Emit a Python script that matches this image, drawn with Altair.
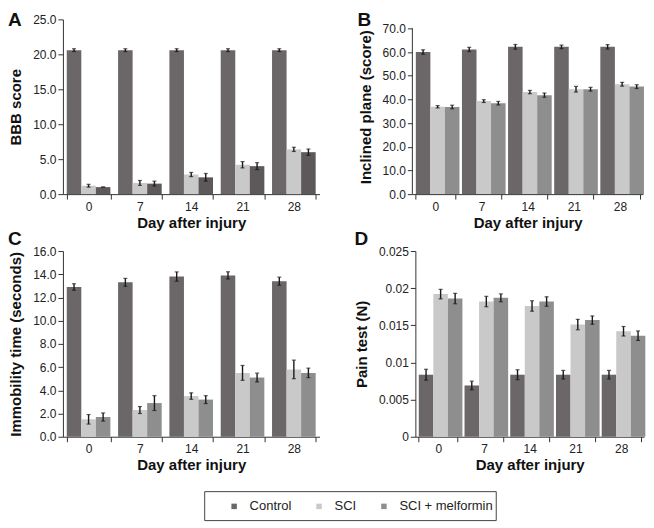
import altair as alt
import pandas as pd

FONT = "Liberation Sans"

days = ["0", "7", "14", "21", "28"]
groups = ["Control", "SCI", "SCI + melformin"]

# Panel A: BBB score
bbb_control = [20.6, 20.6, 20.6, 20.6, 20.6]
bbb_control_err = [0.2, 0.2, 0.2, 0.2, 0.2]
bbb_sci = [1.2, 1.6, 2.8, 4.2, 6.4]
bbb_sci_err = [0.2, 0.35, 0.3, 0.45, 0.3]
bbb_mel = [1.0, 1.5, 2.4, 4.0, 6.0]
bbb_mel_err = [0.0, 0.35, 0.55, 0.5, 0.45]

# Panel B: Inclined plane
inc_control = [60.0, 61.1, 62.2, 62.2, 62.2]
inc_control_err = [0.95, 0.9, 1.0, 0.75, 0.95]
inc_sci = [36.9, 39.3, 43.1, 44.3, 46.4]
inc_sci_err = [0.5, 0.6, 0.7, 1.2, 0.8]
inc_mel = [36.8, 38.4, 41.8, 44.3, 45.4]
inc_mel_err = [0.75, 0.75, 0.9, 0.8, 0.8]

# Panel C: Immobility time
imm_control = [12.9, 13.3, 13.8, 13.9, 13.4]
imm_control_err = [0.28, 0.34, 0.4, 0.31, 0.35]
imm_sci = [1.5, 2.3, 3.5, 5.5, 5.8]
imm_sci_err = [0.41, 0.3, 0.28, 0.64, 0.8]
imm_mel = [1.7, 2.9, 3.2, 5.1, 5.5]
imm_mel_err = [0.35, 0.64, 0.34, 0.38, 0.41]

# Panel D: Pain test
pain_control = [0.00835, 0.0069, 0.00835, 0.00835, 0.00835]
pain_control_err = [0.00073, 0.00058, 0.00067, 0.00058, 0.00058]
pain_sci = [0.0192, 0.0182, 0.0176, 0.0151, 0.0142]
pain_sci_err = [0.00064, 0.0007, 0.0007, 0.0007, 0.00064]
pain_mel = [0.0186, 0.0187, 0.0182, 0.0157, 0.0136]
pain_mel_err = [0.0007, 0.00053, 0.00064, 0.00056, 0.00064]

ticks_a = [0, 5, 10, 15, 20, 25]
ticks_b = [0, 10, 20, 30, 40, 50, 60, 70]
ticks_c = [0, 2, 4, 6, 8, 10, 12, 14, 16]
ticks_d = [0, 0.005, 0.01, 0.015, 0.02, 0.025]

colors_main = ["#6b6667", "#c9c9c9", "#8e8e8e"]
colors_a = ["#6b6667", "#c9c9c9", "#5d5859"]

panel_letters = ["A", "B", "C", "D"]

AXIS_COLOR = "#333333"
ERR_COLOR = "#1a1a1a"


def make_df(series, errs):
    rows = []
    for g, vals, es in zip(groups, series, errs):
        for d, v, e in zip(days, vals, es):
            rows.append({"day": d, "group": g, "mean": v, "lo": v - e, "hi": v + e})
    return pd.DataFrame(rows)


def panel(df, ytitle, ticks, fmt, colors, letter, width, height, lx, ly, dom_max=None):
    top = ticks[-1] if dom_max is None else dom_max
    own_domain = dom_max is None

    def xe():
        return alt.X(
            "day:N", sort=days, title="Day after injury",
            scale=alt.Scale(paddingInner=0.15, paddingOuter=0.075),
            axis=alt.Axis(labelAngle=0, tickBand="extent", titlePadding=3),
        )

    def xo():
        return alt.XOffset("group:N", sort=groups,
                           scale=alt.Scale(paddingInner=0, paddingOuter=0))

    def yscale():
        return alt.Scale(domain=[0, top], nice=False, zero=True)

    def yaxis():
        return alt.Axis(values=ticks, format=fmt, titlePadding=9, domain=own_domain,
                        labelOverlap=False)

    def ye(field):
        return alt.Y(field, title=ytitle, scale=yscale(), axis=yaxis())

    base = alt.Chart(df)
    bars = base.mark_bar().encode(
        x=xe(), xOffset=xo(), y=ye("mean:Q"),
        color=alt.Color("group:N", sort=groups,
                        scale=alt.Scale(domain=groups, range=colors), legend=None),
    )
    rule = base.mark_rule(color=ERR_COLOR, strokeWidth=1.4).encode(
        x=xe(), xOffset=xo(), y=ye("lo:Q"), y2="hi:Q"
    )
    cap_lo = base.mark_tick(color=ERR_COLOR, thickness=1.2, size=4).encode(
        x=xe(), xOffset=xo(), y=ye("lo:Q")
    )
    cap_hi = base.mark_tick(color=ERR_COLOR, thickness=1.2, size=4).encode(
        x=xe(), xOffset=xo(), y=ye("hi:Q")
    )
    lab = alt.Chart(pd.DataFrame({"t": [letter]})).mark_text(
        align="left", baseline="top", fontSize=19, fontWeight="bold",
        font=FONT, color="#111"
    ).encode(text="t:N", x=alt.value(lx), y=alt.value(ly))
    layers = [bars, rule, cap_lo, cap_hi, lab]
    if not own_domain:
        # y-axis line that stops at the top tick
        axis_line = alt.Chart(pd.DataFrame({"a": [0]})).mark_rule(
            color=AXIS_COLOR, strokeWidth=1
        ).encode(
            x=alt.value(0),
            y=alt.Y(datum=ticks[0], title=ytitle, scale=yscale(), axis=yaxis()),
            y2=alt.Y2(datum=ticks[-1]),
        )
        layers.append(axis_line)
    return alt.layer(*layers).properties(width=width, height=height)


df_a = make_df([bbb_control, bbb_sci, bbb_mel], [bbb_control_err, bbb_sci_err, bbb_mel_err])
df_b = make_df([inc_control, inc_sci, inc_mel], [inc_control_err, inc_sci_err, inc_mel_err])
df_c = make_df([imm_control, imm_sci, imm_mel], [imm_control_err, imm_sci_err, imm_mel_err])
df_d = make_df([pain_control, pain_sci, pain_mel], [pain_control_err, pain_sci_err, pain_mel_err])

pa = panel(df_a, "BBB score", ticks_a, ".1f", colors_a, panel_letters[0], 257, 175, -55, -8)
pb = panel(df_b, "Inclined plane (score)", ticks_b, ".1f", colors_main, panel_letters[1],
           231, 175, -55, -8, dom_max=73.8)
pc = panel(df_c, "Immobility time (seconds)", ticks_c, ".1f", colors_main, panel_letters[2],
           257, 186, -55, -21)
pd_ = panel(df_d, "Pain test (N)", ticks_d, "~g", colors_main, panel_letters[3],
            229, 186, -61, -21)

res = dict(color="independent", x="independent", y="independent")
row1 = alt.hconcat(pa, pb, spacing=38).resolve_scale(**res)
row2 = alt.hconcat(pc, pd_, spacing=34).resolve_scale(**res)
rows = alt.vconcat(row1, row2, spacing=0).resolve_scale(**res)

leg_df = pd.DataFrame({"group": groups})
leg_marks = alt.Chart(leg_df).mark_square(size=0).encode(
    color=alt.Color(
        "group:N", sort=groups,
        scale=alt.Scale(domain=groups, range=colors_main),
        legend=alt.Legend(
            orient="none", legendX=165, legendY=8, direction="horizontal",
            columns=3, title=None, symbolType="square", symbolSize=30,
            symbolStrokeWidth=0, symbolOpacity=1, labelFontSize=13, labelFont=FONT,
            labelColor="#222", columnPadding=21, labelOffset=9, padding=0,
        ),
    )
)
box = alt.Chart(pd.DataFrame({"a": [0]})).mark_rect(
    fill="transparent", stroke="#444", strokeWidth=1
).encode(x=alt.value(142), x2=alt.value(434), y=alt.value(0), y2=alt.value(29))
legend_chart = alt.layer(box, leg_marks).properties(width=1, height=29)

chart = (
    alt.vconcat(rows, legend_chart, spacing=18)
    .resolve_scale(**res)
    .properties(padding={"left": 0, "top": 3, "right": 0, "bottom": 0})
    .configure_view(strokeWidth=0)
    .configure_axis(
        grid=False, labelFont=FONT, titleFont=FONT, labelFontSize=12,
        labelColor="#222", titleFontSize=15, titleFontWeight="bold",
        titleColor="#111", domainColor=AXIS_COLOR, tickColor=AXIS_COLOR,
        tickSize=5, labelPadding=2,
    )
)

chart.save("out.html", embed_options={"renderer": "svg", "actions": False})
